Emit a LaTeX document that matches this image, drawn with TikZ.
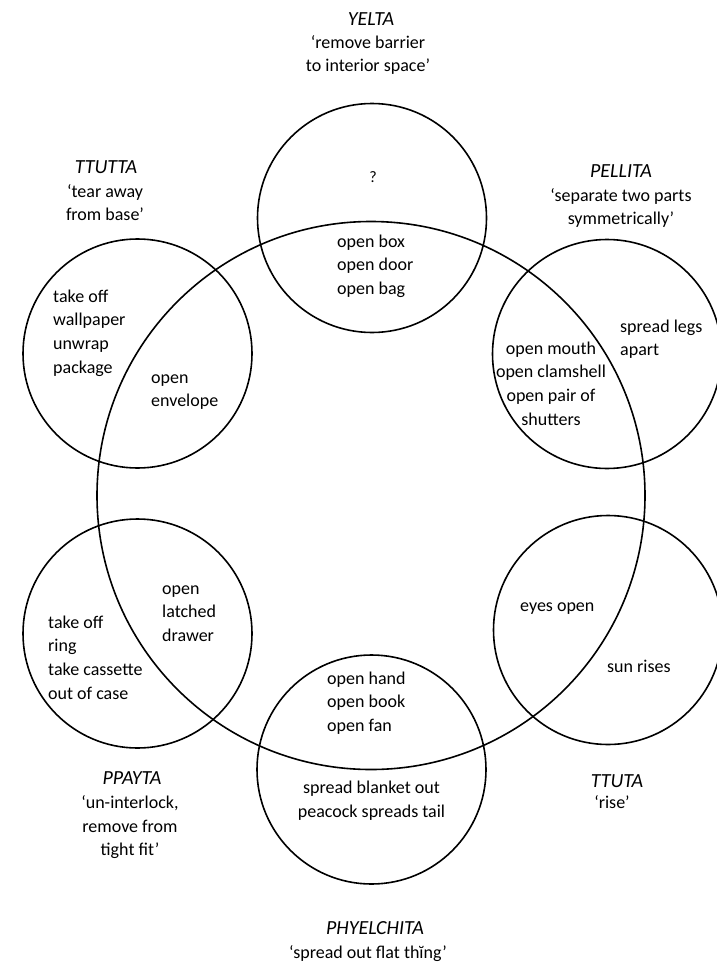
\documentclass[tikz,border=0pt]{standalone}
\usepackage{fontspec}
\setmainfont{Carlito}
\begin{document}
\begin{tikzpicture}[x=1pt,y=-1pt,
  ring/.style={draw=black, line width=1.6pt},
  body/.style={inner sep=0pt, text=black, font=\fontsize{18}{23.7}\selectfont},
  lblock/.style={body, align=left, anchor=north west},
  cblock/.style={body, align=center, anchor=north},
  single/.style={body, anchor=base west},
  head/.style={inner sep=0pt, anchor=base, text=black, font=\fontsize{20}{24}\selectfont\itshape}]
\useasboundingbox (0,0) rectangle (716,966);

% centres of the central ring and of the six outer circles
\coordinate (hub)    at (371,495.5);
\coordinate (yelta)  at (372,218);
\coordinate (pellita) at (607,354);
\coordinate (ttuta)  at (608,630);
\coordinate (phyel)  at (371.5,769.5);
\coordinate (ppayta) at (137.5,633.5);
\coordinate (ttutta) at (137.5,353.5);

\draw[ring] (hub) circle[radius=274pt];
\foreach \c in {yelta,pellita,ttuta,phyel,ppayta,ttutta}
  \draw[ring] (\c) circle[radius=114.5pt];

% headings and glosses
\node[head] (hY) at (371,25.5) {YELTA};
\node[cblock] (gY) at (368,31.5) {\strut`remove barrier\\to interior space'};
\node[head] (hTT) at (106,173.5) {TTUTTA};
\node[cblock] (gTT) at (105,180.5) {\strut`tear away\\from base'};
\node[head] (hP) at (621,177) {PELLITA};
\node[cblock] (gP) at (621,184.5) {\strut`separate two parts\\symmetrically'};
\node[head] (hPP) at (132,784.5) {PPAYTA};
\node[cblock] (gPP) at (130,791.5) {\strut`un-interlock,\\remove from\\tight fit'};
\node[head] (hT) at (617,787.5) {TTUTA};
\node[cblock] (gT) at (612,791.5) {\strut`rise'};
\node[head] (hPH) at (375,934.5) {PHYELCHITA};
\node[cblock] (gPH) at (368,941.5) {\strut`spread out flat thĭng'};

% texts inside the circles
\node[body, font=\fontsize{16}{20}\selectfont] (q) at (373,177) {?};
\node[lblock] (tY) at (337,230.5) {\strut open box\\open door\\open bag};
\node[lblock] (tTT) at (53,285.5) {\strut take off\\wallpaper\\unwrap\\package};
\node[lblock] (tTTi) at (151,366.5) {\strut open\\envelope};
\node[cblock] (tPi) at (551,337.5) {\strut open mouth\\open clamshell\\open pair of\\shutters};
\node[lblock] (tP) at (620,315.5) {\strut spread legs\\apart};
\node[lblock] (tPPi) at (162,577.5) {\strut open\\latched\\drawer};
\node[lblock] (tPP) at (48,611.5) {\strut take off\\ring\\take cassette\\out of case};
\node[single] (tTi) at (520,611) {eyes open};
\node[single] (tT) at (607,672) {sun rises};
\node[lblock] (tPHi) at (327,667.5) {\strut open hand\\open book\\open fan};
\node[cblock] (tPH) at (371.5,776.5) {\strut spread blanket out\\peacock spreads tail};
\end{tikzpicture}
\end{document}
